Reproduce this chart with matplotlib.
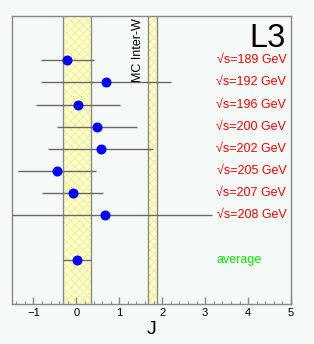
import numpy as np
import matplotlib
matplotlib.use('Agg')
import matplotlib.pyplot as plt
from matplotlib.ticker import MultipleLocator

plt.rcParams['font.family'] = ['Liberation Sans', 'DejaVu Sans']
plt.rcParams['hatch.linewidth'] = 0.6

# Data
energies = ['189', '192', '196', '200', '202', '205', '207', '208']
j_values = [-0.21, 0.69, 0.03, 0.48, 0.57, -0.45, -0.09, 0.66]
j_errors = [0.62, 1.52, 0.98, 0.94, 1.22, 0.90, 0.71, 2.51]
avg_value = 0.015
avg_error = 0.325
mc_value = 1.77
mc_error = 0.10

bg = '#f5f9f7'
fig = plt.figure(figsize=(3.14, 3.44), dpi=100, facecolor=bg)
ax = fig.add_axes([0.0382, 0.1163, 0.8886, 0.8372], facecolor=bg)

# y positions: energies from top down, average two steps below
ypos = np.arange(len(energies) + 3, 3, -1)
y_avg = 2

# bands (average and MC inter-W)
for c, e in [(avg_value, avg_error), (mc_value, mc_error)]:
    ax.axvspan(c - e, c + e, facecolor='#fcfce2', edgecolor='#f4f45a',
               hatch='xxxx', linewidth=0, zorder=1)
    ax.axvline(c - e, color='#8a8a8a', lw=1, zorder=2)
    ax.axvline(c + e, color='#8a8a8a', lw=1, zorder=2)

ax.errorbar(j_values, ypos, xerr=j_errors, fmt='o', color='#0000ff', ms=6.2,
            ecolor='#6a6a6a', elinewidth=1, capsize=0, zorder=3)
ax.errorbar([avg_value], [y_avg], xerr=[avg_error], fmt='o', color='#0000ff',
            ms=6.2, ecolor='#6a6a6a', elinewidth=1, capsize=0, zorder=3)

for e, y in zip(energies, ypos):
    ax.text(4.89, y, '\u221as=' + e + ' GeV', color='#ff0000', fontsize=9,
            ha='right', va='center')
ax.text(3.26, y_avg, 'average', color='#00ee00', fontsize=9,
        ha='left', va='center')

ax.text(4.865, 11.6, 'L3', fontsize=23.5, ha='right', va='baseline')
ax.text(1.44, 12.88, 'MC Inter-W', fontsize=9, rotation=90,
        ha='center', va='top')

ax.set_xlim(-1.5, 5)
ax.set_ylim(0, 13)
ax.xaxis.set_major_locator(MultipleLocator(1))
ax.xaxis.set_minor_locator(MultipleLocator(0.2))
ax.tick_params(axis='x', which='both', direction='in', colors='#888888',
               labelcolor='black', labelsize=8, pad=3)
ax.tick_params(axis='x', which='major', length=5, width=1)
ax.tick_params(axis='x', which='minor', length=2.5, width=0.8)
ax.set_yticks([])
for s in ax.spines.values():
    s.set_color('#888888')
    s.set_linewidth(1)

ax.set_xlabel('J', fontsize=14, labelpad=2)

fig.savefig('out.png', dpi=100, facecolor=bg)
